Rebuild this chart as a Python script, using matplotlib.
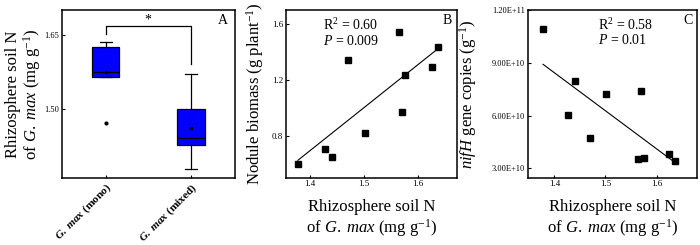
import numpy as np
import matplotlib
matplotlib.use("Agg")
import matplotlib.pyplot as plt

plt.rcParams['font.family'] = ['Liberation Serif', 'DejaVu Serif']
plt.rcParams['mathtext.fontset'] = 'custom'
plt.rcParams['mathtext.rm'] = 'Liberation Serif'
plt.rcParams['mathtext.it'] = 'Liberation Serif:italic'
plt.rcParams['mathtext.bf'] = 'Liberation Serif:bold'
plt.rcParams['mathtext.bfit'] = 'Liberation Serif:bold:italic'

# ---------------- data ----------------
groups = [r"$\mathbfit{G.\ max}$ (mono)", r"$\mathbfit{G.\ max}$ (mixed)"]
box_q1 = [1.5645, 1.426]
box_med = [1.5746, 1.4396]
box_q3 = [1.625, 1.500]
box_whislo = [1.5645, 1.377]
box_whishi = [1.6357, 1.5706]
box_mean = [1.575, 1.461]
box_fliers = [[1.470], []]
sig_y = [1.651, 1.6677, 1.6677, 1.590]
sig_label = "*"

soil_n = [1.378, 1.427, 1.441, 1.470, 1.501, 1.564, 1.570, 1.575, 1.625, 1.636]
nodule = [0.600, 0.705, 0.650, 1.344, 0.817, 1.545, 0.970, 1.235, 1.292, 1.438]
nifh = [1.09e11, 6.06e10, 7.94e10, 4.72e10, 7.24e10, 3.54e10, 7.41e10, 3.60e10, 3.83e10, 3.43e10]

a_yticks = [1.50, 1.65]
a_yticklabels = ["1.50", "1.65"]
b_xticks = [1.4, 1.5, 1.6]
b_yticks = [0.8, 1.2, 1.6]
c_yticks = [3e10, 6e10, 9e10, 1.2e11]
c_yticklabels = ["3.00E+10", "6.00E+10", "9.00E+10", "1.20E+11"]
stat_b = ["R$^2$ = 0.60", "$\\it{P}$ = 0.009"]
stat_c = ["R$^2$ = 0.58", "$\\it{P}$ = 0.01"]

xlabel = "Rhizosphere soil N\nof $\\it{G.\\ max}$ (mg g$^{-1}$)"

fig = plt.figure(figsize=(7.0, 2.45), dpi=100)
axA = fig.add_axes([0.0886, 0.2747, 0.2471, 0.6845])
axB = fig.add_axes([0.4086, 0.2747, 0.2439, 0.6845])
axC = fig.add_axes([0.7539, 0.2747, 0.2419, 0.6845])

for ax in (axA, axB, axC):
    for s in ax.spines.values():
        s.set_linewidth(1.1)
    ax.tick_params(direction='in', length=2.5, width=0.8, pad=2)

# ---------------- panel A ----------------
stats = []
for i in range(2):
    stats.append(dict(med=box_med[i], q1=box_q1[i], q3=box_q3[i],
                      whislo=box_whislo[i], whishi=box_whishi[i],
                      mean=box_mean[i], fliers=box_fliers[i]))
axA.bxp(stats, positions=[1, 2], widths=0.32, capwidths=0.14,
        patch_artist=True, showmeans=True,
        boxprops=dict(facecolor='#0000ff', edgecolor='black', linewidth=0.9),
        medianprops=dict(color='black', linewidth=0.9),
        whiskerprops=dict(color='black', linewidth=0.9),
        capprops=dict(color='black', linewidth=0.9),
        meanprops=dict(marker='o', markersize=1.5, markerfacecolor='black',
                       markeredgecolor='black'),
        flierprops=dict(marker='o', markersize=2, markerfacecolor='black',
                        markeredgecolor='black'))
axA.plot([1, 1, 2, 2], sig_y, color='black', lw=0.9)
axA.text(1.5, sig_y[1] - 0.002, sig_label, ha='center', va='bottom', fontsize=10)
axA.set_xlim(0.487, 2.518)
axA.set_ylim(1.36, 1.70)
axA.set_yticks(a_yticks)
axA.set_yticklabels(a_yticklabels, fontsize=6)
axA.set_xticks([1, 2])
axA.set_xticklabels(groups, rotation=45, ha='right', va='top',
                    rotation_mode='anchor', fontsize=8.2, fontweight='bold')
axA.tick_params(axis='x', pad=2)
axA.set_ylabel("Rhizosphere soil N\nof $\\it{G.\\ max}$ (mg g$^{-1}$)", fontsize=12,
               linespacing=1.0)
axA.yaxis.set_label_coords(-0.11, 0.5)
axA.text(0.96, 0.935, "A", transform=axA.transAxes, ha='right', va='center', fontsize=10)

# ---------------- panel B ----------------
x = np.array(soil_n)
yb = np.array(nodule)
axB.plot(x, yb, 's', color='black', markersize=3.8)
kb = np.polyfit(x, yb, 1)
xl = np.array([x.min(), x.max()])
axB.plot(xl, np.polyval(kb, xl), color='black', lw=0.8)
axB.set_xlim(1.356, 1.671)
axB.set_ylim(0.5, 1.7)
axB.set_xticks(b_xticks)
axB.set_xticklabels([f"{v:.1f}" for v in b_xticks], fontsize=6.5)
axB.set_yticks(b_yticks)
axB.set_yticklabels([f"{v:.1f}" for v in b_yticks], fontsize=6.5)
axB.set_ylabel("Nodule biomass (g plant$^{-1}$)", fontsize=12)
axB.yaxis.set_label_coords(-0.12, 0.5)
axB.set_xlabel(xlabel, fontsize=12, linespacing=1.1)
axB.xaxis.set_label_coords(0.5, -0.13)
axB.text(0.217, 0.91, stat_b[0], transform=axB.transAxes, ha='left', va='center', fontsize=10)
axB.text(0.217, 0.815, stat_b[1], transform=axB.transAxes, ha='left', va='center', fontsize=10)
axB.text(0.972, 0.94, "B", transform=axB.transAxes, ha='right', va='center', fontsize=10)

# ---------------- panel C ----------------
yc = np.array(nifh)
axC.plot(x, yc, 's', color='black', markersize=3.8)
kc = np.polyfit(x, yc, 1)
axC.plot(xl, np.polyval(kc, xl), color='black', lw=0.8)
axC.set_xlim(1.348, 1.679)
axC.set_ylim(2.47e10, 1.2e11)
axC.set_xticks(b_xticks)
axC.set_xticklabels([f"{v:.1f}" for v in b_xticks], fontsize=6.5)
axC.set_yticks(c_yticks)
axC.set_yticklabels(c_yticklabels, fontsize=6)
axC.set_ylabel("$\\it{nifH}$ gene copies (g$^{-1}$)", fontsize=12)
axC.yaxis.set_label_coords(-0.29, 0.5)
axC.set_xlabel(xlabel, fontsize=12, linespacing=1.1)
axC.xaxis.set_label_coords(0.5, -0.13)
axC.text(0.413, 0.91, stat_c[0], transform=axC.transAxes, ha='left', va='center', fontsize=10)
axC.text(0.413, 0.82, stat_c[1], transform=axC.transAxes, ha='left', va='center', fontsize=10)
axC.text(0.976, 0.94, "C", transform=axC.transAxes, ha='right', va='center', fontsize=10)

fig.savefig("out.png", dpi=100)
